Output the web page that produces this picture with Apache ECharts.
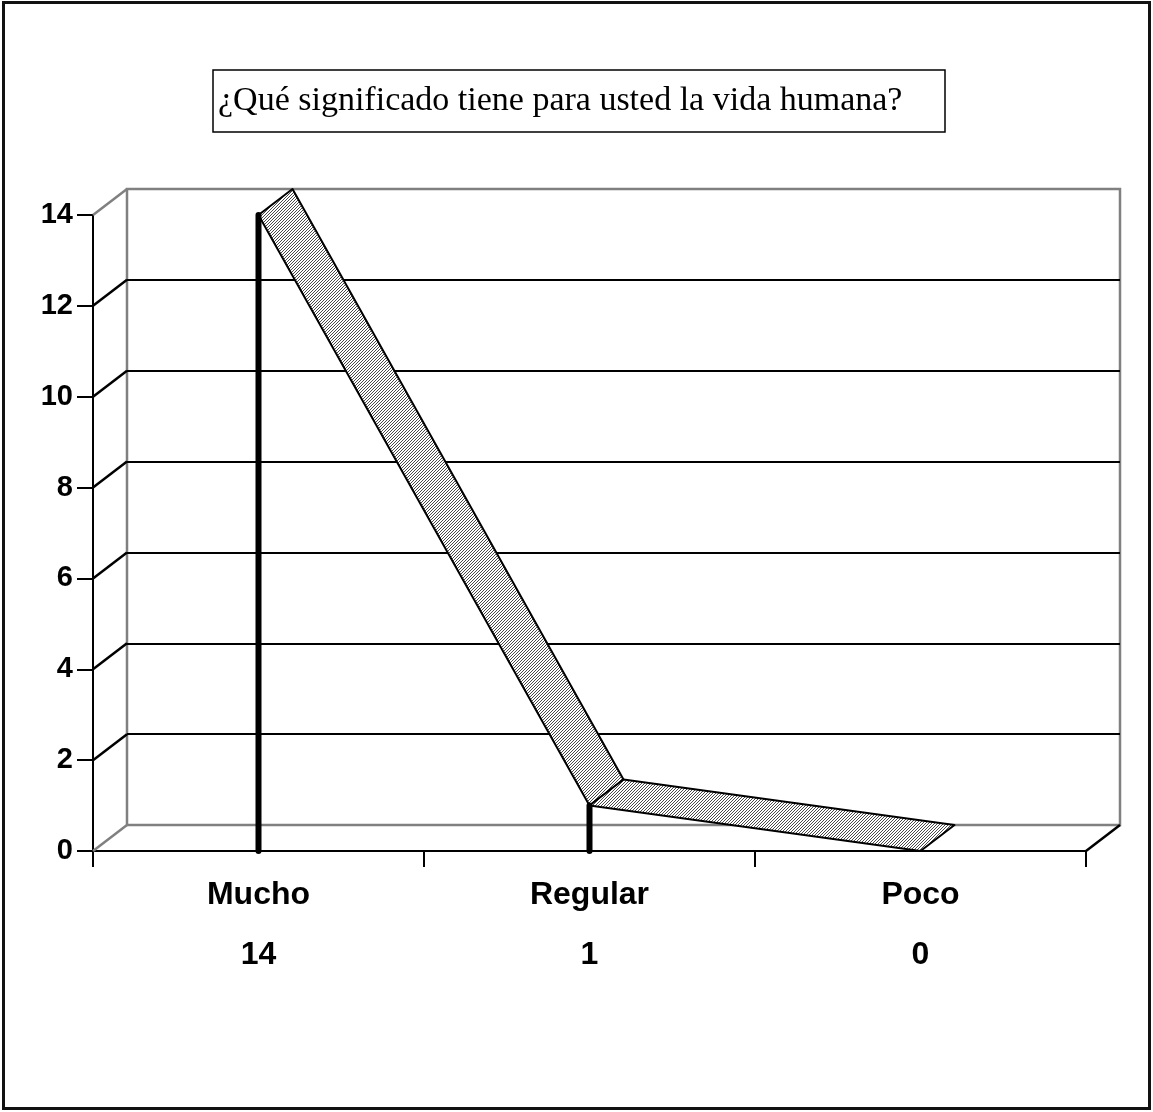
<!DOCTYPE html>
<html lang="es">
<head>
    <meta charset="UTF-8">
    <title>Vida humana</title>
    <style>
        html, body { margin: 0; padding: 0; background: #fff; }
        #chart { width: 1153px; height: 1112px; }
    </style>
    <script src="https://cdn.jsdelivr.net/npm/echarts@6/dist/echarts.min.js"></script>
</head>
<body>
<div id="chart"></div>
<script>
    // datos
    var titleText = '¿Qué significado tiene para usted la vida humana?';
    var categories = ['Mucho', 'Regular', 'Poco'];
    var values = [14, 1, 0];
    var yTicks = [0, 2, 4, 6, 8, 10, 12, 14];

    // desplazamiento de la pared del fondo (efecto 3D)
    var DX = 34, DY = -26;
    var GRAY = '#808080';

    // trama rayada para la cinta
    var hatch = document.createElement('canvas');
    hatch.width = 3; hatch.height = 3;
    var hc = hatch.getContext('2d');
    hc.fillStyle = '#fff';
    hc.fillRect(0, 0, 3, 3);
    hc.fillStyle = '#4a4a4a';
    hc.fillRect(0, 2, 1, 1);
    hc.fillRect(1, 1, 1, 1);
    hc.fillRect(2, 0, 1, 1);

    var myChart = echarts.init(document.getElementById('chart'));

    function back(p) {
        return [p[0] + DX, p[1] + DY];
    }

    var option = {
        animation: false,
        backgroundColor: '#fff',
        title: {
            text: titleText,
            left: 213,
            top: 70,
            borderColor: '#000',
            borderWidth: 1.5,
            padding: [14, 43, 14, 5],
            textStyle: {
                fontFamily: 'Liberation Serif',
                fontWeight: 'normal',
                fontSize: 34,
                lineHeight: 34,
                color: '#000'
            }
        },
        graphic: [{
            type: 'rect',
            shape: {x: 3.5, y: 2.5, width: 1146, height: 1106},
            style: {fill: 'none', stroke: '#111', lineWidth: 3},
            silent: true
        }],
        grid: [
            {left: 93, right: 67, top: 215, bottom: 261},
            {left: 127, right: 33, top: 189, bottom: 287, show: true,
                borderColor: GRAY, borderWidth: 2.5, backgroundColor: 'transparent'}
        ],
        xAxis: [
            {
                type: 'category',
                gridIndex: 0,
                data: categories,
                boundaryGap: true,
                axisLine: {lineStyle: {color: '#000', width: 2}},
                axisTick: {show: true, length: 16, inside: false, lineStyle: {color: '#000', width: 2}},
                axisLabel: {
                    margin: 14,
                    formatter: function (v, i) {
                        return '{c|' + v + '}\n{v|' + values[i] + '}';
                    },
                    rich: {
                        c: {fontFamily: 'Liberation Sans', fontWeight: 'bold', fontSize: 32, lineHeight: 60, color: '#000'},
                        v: {fontFamily: 'Liberation Sans', fontWeight: 'bold', fontSize: 32, lineHeight: 60, color: '#000'}
                    }
                }
            },
            {
                type: 'category',
                gridIndex: 1,
                data: categories,
                show: false
            }
        ],
        yAxis: [
            {
                type: 'value',
                gridIndex: 0,
                min: 0,
                max: 14,
                interval: 2,
                axisLine: {show: true, lineStyle: {color: '#000', width: 2}},
                axisTick: {show: true, length: 16, lineStyle: {color: '#000', width: 2}},
                axisLabel: {
                    margin: 20,
                    fontFamily: 'Liberation Sans',
                    fontWeight: 'bold',
                    fontSize: 29,
                    color: '#000'
                },
                splitLine: {show: false}
            },
            {
                type: 'value',
                gridIndex: 1,
                min: 0,
                max: 14,
                interval: 2,
                axisLine: {show: false},
                axisTick: {show: false},
                axisLabel: {show: false},
                splitLine: {
                    show: true,
                    showMinLine: false,
                    showMaxLine: false,
                    lineStyle: {color: '#000', width: 2}
                }
            }
        ],
        series: [
            {
                // pared lateral y suelo
                type: 'custom',
                xAxisIndex: 0,
                yAxisIndex: 0,
                z: 1,
                silent: true,
                data: yTicks.map(function (t) { return [0, t]; }),
                renderItem: function (params, api) {
                    var cs = params.coordSys;
                    var v = api.value(1);
                    var y = api.coord([0, v])[1];
                    var edge = (v === yTicks[0] || v === yTicks[yTicks.length - 1]);
                    var children = [{
                        type: 'line',
                        shape: {x1: cs.x, y1: y, x2: cs.x + DX, y2: y + DY},
                        style: {stroke: edge ? GRAY : '#000', lineWidth: 2.5}
                    }];
                    if (v === yTicks[0]) {
                        var xr = cs.x + cs.width;
                        children.push({
                            type: 'line',
                            shape: {x1: xr, y1: y, x2: xr + DX, y2: y + DY},
                            style: {stroke: '#000', lineWidth: 2.5}
                        });
                    }
                    return {type: 'group', children: children};
                }
            },
            {
                // cinta 3D con líneas de caída
                type: 'custom',
                xAxisIndex: 0,
                yAxisIndex: 0,
                z: 5,
                silent: true,
                data: values.map(function (v, i) { return [i, v]; }),
                renderItem: function (params, api) {
                    var i = params.dataIndex;
                    var p0 = api.coord([i, api.value(1)]);
                    var base = api.coord([i, 0]);
                    var children = [];
                    if (i < values.length - 1) {
                        var p1 = api.coord([i + 1, values[i + 1]]);
                        var b0 = back(p0), b1 = back(p1);
                        children.push({
                            type: 'polygon',
                            shape: {points: [p0, p1, b1, b0]},
                            style: {
                                fill: {image: hatch, repeat: 'repeat'},
                                stroke: '#000',
                                lineWidth: 2,
                                lineJoin: 'round'
                            }
                        });
                    }
                    children.push({
                        type: 'line',
                        shape: {x1: p0[0], y1: p0[1], x2: base[0], y2: base[1]},
                        style: {stroke: '#000', lineWidth: 6, lineCap: 'round'},
                        z2: 10
                    });
                    return {type: 'group', children: children};
                }
            }
        ]
    };

    myChart.setOption(option);
</script>
</body>
</html>
